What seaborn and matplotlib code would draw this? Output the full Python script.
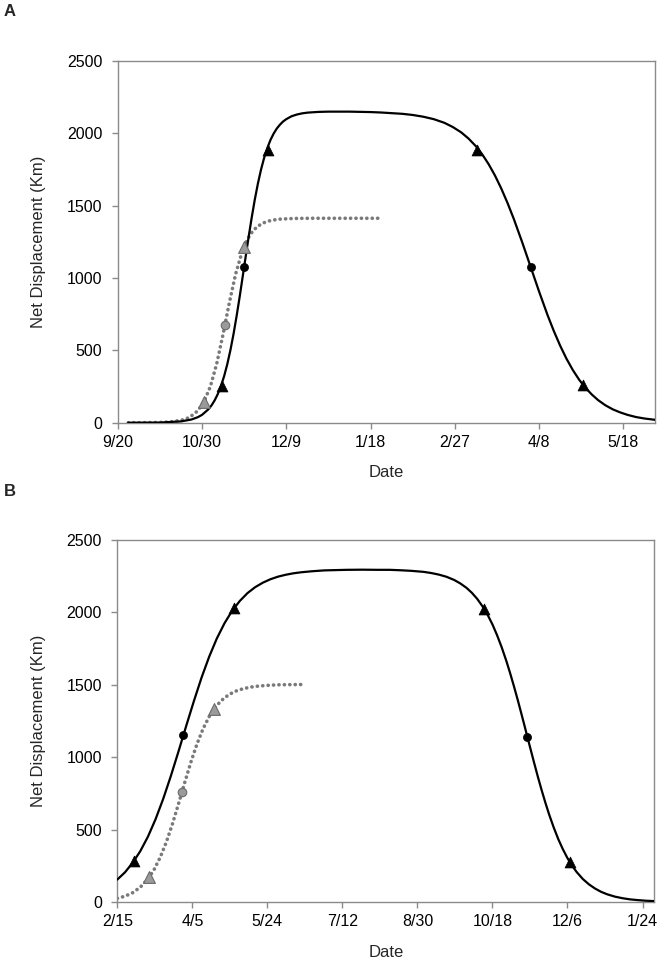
import matplotlib
matplotlib.use("Agg")
import matplotlib.pyplot as plt
import seaborn as sns

# ---------------- Panel A data (days since 9/20) ----------------
a_xticklabels = ["9/20", "10/30", "12/9", "1/18", "2/27", "4/8", "5/18"]
a_xticks = [0, 40, 80, 120, 160, 200, 240]

a_solid_day = [5, 20, 30, 35, 38, 40, 43, 44.5, 46, 47.5, 49, 50.5, 52, 53.5, 55, 56.5, 58,
               60, 62, 63.5, 65, 66.5, 68, 69.5, 71, 72.5, 74, 75.5, 77, 78.5, 80, 82.5, 85,
               87.5, 90, 95, 100, 110, 120, 125, 135, 140, 145, 150, 155, 159, 163, 166.5,
               170, 173, 176, 179, 182, 185, 188, 192, 196, 200, 204, 207, 210, 213, 216,
               219, 222, 225, 228, 231.5, 235, 238.5, 242, 246, 250, 255]
a_solid_val = [0, 1, 9, 22, 38, 54, 92, 119, 154, 198, 254, 321, 404, 502, 615, 743, 881,
               1076, 1271, 1409, 1537, 1650, 1748, 1831, 1898, 1954, 1998, 2033, 2060, 2082,
               2098, 2118, 2130, 2138, 2143, 2148, 2150, 2150, 2147, 2144, 2135, 2127, 2115,
               2098, 2073, 2044, 2007, 1964, 1911, 1855, 1788, 1710, 1620, 1519, 1408, 1246,
               1076, 906, 744, 633, 532, 442, 364, 297, 241, 195, 156, 120, 92, 71, 54, 39,
               29, 20]

a_dot_day = [5, 10, 15, 20, 25, 30, 34, 38, 41, 44, 47, 50, 53, 56, 59, 60.5, 62, 63.5,
             65, 66.5, 68, 70, 72, 74.5, 77, 81, 85, 92, 100, 125]
a_dot_val = [0, 0, 1, 2, 6, 16, 36, 82, 146, 251, 408, 611, 831, 1029, 1179, 1234, 1278,
             1312, 1338, 1357, 1372, 1386, 1395, 1402, 1407, 1410, 1412, 1413, 1413, 1413]

a_tri_day = [49.4, 71.2, 170.4, 220.7]
a_tri_val = [256, 1886, 1886, 262]
a_circ_day = [59.9, 196]
a_circ_val = [1077, 1074]
a_gtri_day = [41.1, 59.9]
a_gtri_val = [140, 1213]
a_gcirc_day = [50.9]
a_gcirc_val = [678]

# ---------------- Panel B data (days since 2/15) ----------------
b_xticklabels = ["2/15", "4/5", "5/24", "7/12", "8/30", "10/18", "12/6", "1/24"]
b_xticks = [0, 49, 98, 147, 196, 245, 294, 343]

b_solid_day = [0, 5, 10, 15, 20, 25, 30, 35, 40, 45, 50, 55, 60, 65, 70, 75, 80, 85, 90,
               95, 100, 105, 110, 115, 120, 127, 135, 142, 150, 160, 170, 178, 185, 192,
               200, 205, 210, 215, 220, 224, 228, 231.5, 235, 238.5, 242, 245, 248, 251,
               254, 256.5, 259, 261.5, 264, 266, 268, 270, 272, 274.5, 277, 279.5, 282,
               285, 288, 291, 294, 297, 300, 304, 308, 312, 316, 320, 325, 330, 335, 340,
               345, 351]
b_solid_val = [155, 205, 270, 351, 451, 572, 713, 871, 1041, 1216, 1387, 1549, 1694, 1820,
               1925, 2011, 2079, 2133, 2174, 2205, 2229, 2247, 2260, 2270, 2277, 2284, 2290,
               2292, 2294, 2295, 2294, 2294, 2291, 2287, 2280, 2272, 2261, 2246, 2224, 2200,
               2170, 2136, 2094, 2042, 1980, 1917, 1843, 1760, 1667, 1582, 1491, 1396, 1296,
               1215, 1132, 1051, 970, 871, 777, 688, 605, 515, 434, 364, 303, 251, 207, 159,
               122, 93, 70, 53, 37, 26, 18, 13, 9, 6]

b_dot_day = [0, 5, 10, 15, 20, 24, 28, 32, 36, 40, 44, 48, 52, 56, 60, 62.5, 65, 67.5, 70,
             73, 76, 79, 83, 87, 92, 98, 105, 112, 121]
b_dot_val = [25, 40, 64, 102, 159, 223, 308, 413, 539, 679, 824, 964, 1090, 1196, 1280,
             1322, 1357, 1386, 1410, 1432, 1450, 1463, 1475, 1484, 1491, 1496, 1500, 1501,
             1502]

b_tri_day = [11.1, 76.0, 239.5, 295.7]
b_tri_val = [283, 2033, 2023, 276]
b_circ_day = [43.1, 267.6]
b_circ_val = [1153, 1140]
b_gtri_day = [20.9, 63.0]
b_gtri_val = [175, 1331]
b_gcirc_day = [42.0]
b_gcirc_val = [757]

yticks = [0, 500, 1000, 1500, 2000, 2500]

sns.set_theme(style="white")
plt.rcParams["font.family"] = ["Liberation Sans", "DejaVu Sans"]

fig = plt.figure(figsize=(6.62, 9.68), dpi=100)
axA = fig.add_axes([117.7 / 662, 1 - 422.7 / 968, 537.3 / 662, 361.7 / 968])
axB = fig.add_axes([117.3 / 662, 1 - 902 / 968, 537.0 / 662, 362 / 968])

spine_col = "#8a8a8a"
dot_col = "#7a7a7a"


def draw(ax, sd, sv, dd, dv, td, tv, cd, cv, gtd, gtv, gcd, gcv, xticks, xlabels, xmax):
    sns.lineplot(x=dd, y=dv, ax=ax, color=dot_col, linewidth=2.6,
                 linestyle=(0, (0.05, 1.45)), dash_capstyle="round", zorder=2)
    sns.lineplot(x=sd, y=sv, ax=ax, color="black", linewidth=1.6, zorder=3,
                 solid_joinstyle="round")
    sns.scatterplot(x=gtd, y=gtv, ax=ax, marker="^", s=72, color="#9a9a9a",
                    edgecolor="#6a6a6a", linewidth=0.8, zorder=4)
    sns.scatterplot(x=gcd, y=gcv, ax=ax, marker="o", s=38, color="#9a9a9a",
                    edgecolor="#6a6a6a", linewidth=0.8, zorder=4)
    sns.scatterplot(x=td, y=tv, ax=ax, marker="^", s=62, color="black",
                    edgecolor="black", linewidth=0.5, zorder=5)
    sns.scatterplot(x=cd, y=cv, ax=ax, marker="o", s=34, color="black",
                    edgecolor="black", linewidth=0.5, zorder=5)
    ax.set_xlim(0, xmax)
    ax.set_ylim(0, 2500)
    ax.set_xticks(xticks)
    ax.set_xticklabels(xlabels)
    ax.set_yticks(yticks)
    ax.set_yticklabels([str(v) for v in yticks])
    for s in ax.spines.values():
        s.set_visible(True)
        s.set_color(spine_col)
        s.set_linewidth(1.0)
    ax.tick_params(axis="both", which="both", direction="out", length=4, width=1.0,
                   color=spine_col, labelsize=11.5, labelcolor="black",
                   bottom=True, left=True)
    ax.tick_params(axis="x", pad=5)
    ax.tick_params(axis="y", pad=7)
    ax.set_xlabel("Date", fontsize=12, labelpad=11)
    ax.set_ylabel("Net Displacement (Km)", fontsize=12, labelpad=15)
    ax.grid(False)


draw(axA, a_solid_day, a_solid_val, a_dot_day, a_dot_val, a_tri_day, a_tri_val,
     a_circ_day, a_circ_val, a_gtri_day, a_gtri_val, a_gcirc_day, a_gcirc_val,
     a_xticks, a_xticklabels, 255)
draw(axB, b_solid_day, b_solid_val, b_dot_day, b_dot_val, b_tri_day, b_tri_val,
     b_circ_day, b_circ_val, b_gtri_day, b_gtri_val, b_gcirc_day, b_gcirc_val,
     b_xticks, b_xticklabels, 350.7)

fig.text(10 / 662, 1 - 12 / 968, "A", fontsize=12, fontweight="bold", ha="center", va="center")
fig.text(10 / 662, 1 - 491 / 968, "B", fontsize=12, fontweight="bold", ha="center", va="center")

fig.savefig("out.png", dpi=100)
